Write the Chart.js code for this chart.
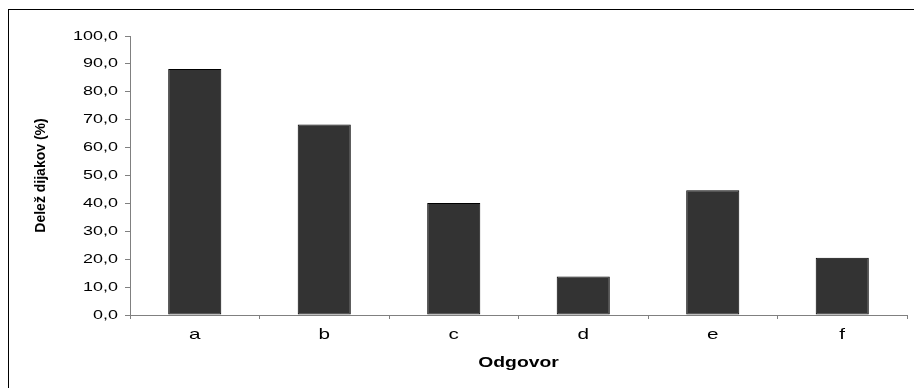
<!DOCTYPE html>
<html>
<head>
<meta charset="utf-8">
<script src="https://cdn.jsdelivr.net/npm/chart.js@4/dist/chart.umd.min.js"></script>
<style>
  html, body { margin: 0; padding: 0; background: #fff; }
  #wrap { width: 914px; height: 388px; }
</style>
</head>
<body>
<div id="wrap"><canvas id="c" width="914" height="388"></canvas></div>
<script>
const categories = ['a', 'b', 'c', 'd', 'e', 'f'];
const shares = [88.2, 68.3, 40.1, 13.8, 44.7, 20.5];
const yMin = 0;
const yMax = 100;
const yStep = 10;
const xTitle = 'Odgovor';
const yTitle = 'Delež dijakov (%)';

// the reference's horizontal text is drawn a little wide
const TEXT_STRETCH = 1.38;

const frame = {
  id: 'frame',
  beforeInit(chart) {
    const ctx = chart.ctx;
    const orig = ctx.fillText;
    ctx.fillText = function (text, x, y, maxWidth) {
      const m = this.getTransform();
      if (Math.abs(m.b) < 1e-6 && Math.abs(m.c) < 1e-6) {
        this.save();
        this.translate(x, y);
        this.scale(TEXT_STRETCH, 1);
        orig.call(this, text, 0, 0);
        this.restore();
      } else if (maxWidth === undefined) {
        orig.call(this, text, x, y);
      } else {
        orig.call(this, text, x, y, maxWidth);
      }
    };
  },
  beforeDraw(chart) {
    const ctx = chart.ctx;
    ctx.save();
    ctx.fillStyle = '#ffffff';
    ctx.fillRect(0, 0, chart.width, chart.height);
    ctx.strokeStyle = '#000000';
    ctx.lineWidth = 1;
    ctx.strokeRect(8.5, 9.5, 1000, 1000);
    ctx.restore();
  }
};

new Chart(document.getElementById('c'), {
  type: 'bar',
  data: {
    labels: categories,
    datasets: [{
      data: shares,
      backgroundColor: '#333333',
      borderColor: '#000000',
      borderWidth: 1,
      borderSkipped: false,
      barPercentage: 0.41,
      categoryPercentage: 1
    }]
  },
  options: {
    responsive: false,
    animation: false,
    devicePixelRatio: 1,
    layout: { padding: { left: 0, top: 36, right: 7, bottom: 0 } },
    plugins: { legend: { display: false }, tooltip: { enabled: false } },
    scales: {
      x: {
        grid: { display: true, drawOnChartArea: false, offset: true, tickLength: 4, color: '#808080' },
        border: { display: true, color: '#808080', width: 1 },
        ticks: { color: '#000', font: { family: 'Liberation Sans', size: 15 }, padding: 7, maxRotation: 0 },
        title: { display: true, text: xTitle, color: '#000', font: { family: 'Liberation Sans', size: 14, weight: 'bold' }, padding: { top: 0, bottom: 16 } },
        afterFit(scale) { scale.height = 73; }
      },
      y: {
        min: yMin,
        max: yMax,
        grid: { display: true, drawOnChartArea: false, tickLength: 5, color: '#808080' },
        border: { display: true, color: '#808080', width: 1 },
        ticks: {
          stepSize: yStep,
          color: '#000',
          padding: 7,
          font: { family: 'Liberation Sans', size: 13 },
          callback: (v) => Number(v).toFixed(1).replace('.', ',')
        },
        title: { display: true, text: yTitle, color: '#000', font: { family: 'Liberation Sans', size: 14, weight: 'bold' }, padding: { top: 33, bottom: 0 } },
        afterFit(scale) { scale.width = 130; }
      }
    }
  },
  plugins: [frame]
});
</script>
</body>
</html>
